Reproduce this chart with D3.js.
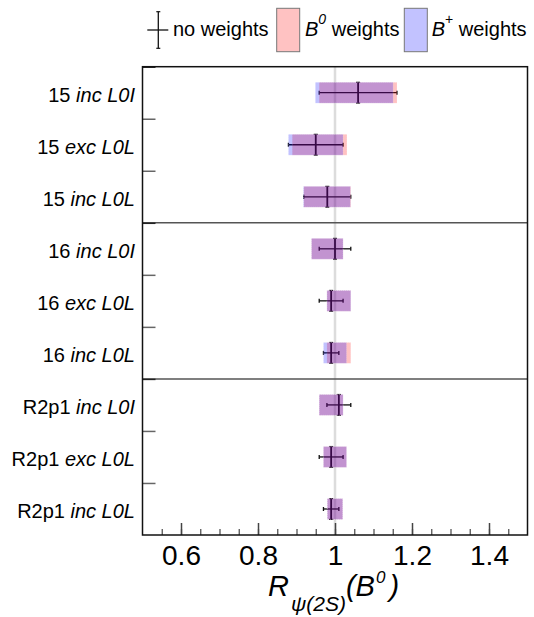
<!DOCTYPE html>
<html>
<head>
<meta charset="utf-8">
<script src="https://cdn.jsdelivr.net/npm/d3@7"></script>
<style>
  html, body { margin: 0; padding: 0; background: #fff; }
  svg { display: block; }
  text { font-family: "Liberation Sans", Arial, Helvetica, sans-serif; fill: #000; }
</style>
</head>
<body>
<svg id="chart" width="534" height="617"></svg>
<script>
// ---- data ----
const years      = ["15", "15", "15", "16", "16", "16", "R2p1", "R2p1", "R2p1"];
const selections = ["inc L0I", "exc L0L", "inc L0L", "inc L0I", "exc L0L", "inc L0L", "inc L0I", "exc L0L", "inc L0L"];

// no weights: central value and symmetric uncertainty
const noWeightVal = [1.060, 0.950, 0.980, 1.000, 0.990, 0.990, 1.010, 0.990, 0.990];
const noWeightErr = [0.101, 0.071, 0.061, 0.041, 0.031, 0.020, 0.031, 0.031, 0.020];

// B0 weights: central value and half-width of the box
const b0Val = [1.060, 0.960, 0.980, 0.980, 1.010, 1.010, 0.990, 1.000, 1.000];
const b0Err = [0.101, 0.071, 0.061, 0.041, 0.031, 0.031, 0.031, 0.030, 0.020];

// B+ weights: central value and half-width of the box
const bpVal = [1.050, 0.950, 0.979, 0.980, 1.010, 1.000, 0.990, 1.000, 1.000];
const bpErr = [0.101, 0.071, 0.061, 0.041, 0.031, 0.030, 0.031, 0.030, 0.020];

const xTicksMajor = [0.6, 0.8, 1.0, 1.2, 1.4];
const xTicksMinor = [0.55, 0.6, 0.65, 0.7, 0.75, 0.8, 0.85, 0.9, 0.95, 1.0, 1.05, 1.1, 1.15, 1.2, 1.25, 1.3, 1.35, 1.4, 1.45];
const panelEdges = [3, 6];
const rowEdges = [1, 2, 4, 5, 7, 8];
const referenceValue = 1.0;

const legendItems = [
  { kind: "err", base: "no weights", sup: "", rest: "" },
  { kind: "b0",  base: "B", sup: "0", rest: " weights" },
  { kind: "bp",  base: "B", sup: "+", rest: " weights" }
];

// ---- layout ----
const svg = d3.select("#chart");
const L = 142.5, R = 527.5, T = 66.7, B = 535;
const nRows = years.length;
const idx = d3.range(nRows);

const x = d3.scaleLinear().domain([0.5, 1.5]).range([L, R]);
const y = d3.scaleBand().domain(idx).range([T, B]).padding(0);
const yEdge = d3.scaleLinear().domain([0, nRows]).range([T, B]);
const bh = y.bandwidth() * 0.4;

const pink = "rgba(255,0,0,0.24)";
const blue = "rgba(0,0,255,0.24)";

// reference line at 1
svg.append("line")
  .attr("x1", x(referenceValue)).attr("x2", x(referenceValue))
  .attr("y1", T).attr("y2", B)
  .attr("stroke", "#dcdcdc").attr("stroke-width", 2.5);

// error bars (no weights), drawn under the boxes
const eg = svg.append("g").attr("stroke", "#111");
idx.forEach(i => {
  const cy = y(i) + y.bandwidth() / 2;
  const xl = x(noWeightVal[i] - noWeightErr[i]);
  const xr = x(noWeightVal[i] + noWeightErr[i]);
  const xc = x(noWeightVal[i]);
  eg.append("line").attr("x1", xl).attr("x2", xr).attr("y1", cy).attr("y2", cy).attr("stroke-width", 1.3);
  eg.append("line").attr("x1", xl).attr("x2", xl).attr("y1", cy - 2).attr("y2", cy + 2).attr("stroke-width", 1.3);
  eg.append("line").attr("x1", xr).attr("x2", xr).attr("y1", cy - 2).attr("y2", cy + 2).attr("stroke-width", 1.3);
  eg.append("line").attr("x1", xc).attr("x2", xc).attr("y1", cy - bh / 2).attr("y2", cy + bh / 2).attr("stroke-width", 1.8);
  eg.append("line").attr("x1", xc - 2).attr("x2", xc + 2).attr("y1", cy - bh / 2).attr("y2", cy - bh / 2).attr("stroke-width", 1.2);
  eg.append("line").attr("x1", xc - 2).attr("x2", xc + 2).attr("y1", cy + bh / 2).attr("y2", cy + bh / 2).attr("stroke-width", 1.2);
});

// boxes (with the faint dotted edge seen in the reference)
function boxes(vals, errs, color) {
  svg.append("g").selectAll("rect").data(idx).join("rect")
    .attr("x", i => x(vals[i] - errs[i]))
    .attr("width", i => x(vals[i] + errs[i]) - x(vals[i] - errs[i]))
    .attr("y", i => y(i) + y.bandwidth() / 2 - bh / 2)
    .attr("height", bh)
    .attr("fill", color)
    .attr("stroke", "rgba(255,255,255,0.35)")
    .attr("stroke-width", 0.8)
    .attr("stroke-dasharray", "1,1");
}
boxes(b0Val, b0Err, pink);
boxes(bpVal, bpErr, blue);

// panel separators
svg.append("g").selectAll("line").data(panelEdges).join("line")
  .attr("x1", L).attr("x2", R)
  .attr("y1", d => yEdge(d)).attr("y2", d => yEdge(d))
  .attr("stroke", "#555").attr("stroke-width", 1.5);

// left ticks at row edges (pointing inward)
const leftTicks = d3.axisRight(yEdge).tickValues(rowEdges.concat(panelEdges, [0])).tickSizeInner(13).tickSizeOuter(0).tickFormat("");
const lt = svg.append("g").attr("transform", `translate(${L},0)`).call(leftTicks);
lt.select(".domain").remove();
lt.selectAll(".tick line").attr("stroke", d => panelEdges.includes(d) || d === 0 ? "#222" : "#666").attr("stroke-width", 1.5);

// y labels
const yAxis = d3.axisLeft(y).tickSize(0).tickPadding(7.5).tickFormat("");
const ya = svg.append("g").attr("transform", `translate(${L},0)`).call(yAxis);
ya.select(".domain").remove();
ya.selectAll(".tick text").each(function(i) {
  const t = d3.select(this).attr("font-size", 20).attr("dy", "0.44em").attr("font-family", null);
  t.append("tspan").text(years[i] + " ");
  t.append("tspan").attr("font-style", "italic").text(selections[i]);
});

// x axis: minor and major ticks pointing up
const minorAxis = d3.axisBottom(x).tickValues(xTicksMinor).tickSizeInner(-6).tickSizeOuter(0).tickFormat("");
const xm = svg.append("g").attr("transform", `translate(0,${B})`).call(minorAxis);
xm.select(".domain").remove();
xm.selectAll(".tick line").attr("stroke", "#555").attr("stroke-width", 1.3);

const majorAxis = d3.axisBottom(x).tickValues(xTicksMajor).tickSizeInner(-12).tickSizeOuter(0).tickPadding(10)
  .tickFormat(d => d3.format("")(d));
const xa = svg.append("g").attr("transform", `translate(0,${B})`).call(majorAxis);
xa.select(".domain").remove();
xa.selectAll(".tick line").attr("stroke", "#444").attr("stroke-width", 1.5);
xa.selectAll(".tick text").attr("font-size", 28).attr("font-family", null);

// frame
svg.append("rect").attr("x", L).attr("y", T).attr("width", R - L).attr("height", B - T)
  .attr("fill", "none").attr("stroke", "#111").attr("stroke-width", 1.5);

// axis title R_{psi(2S)}(B^0)
const title = svg.append("text").attr("x", 268).attr("y", 596).attr("font-size", 29).attr("font-style", "italic");
title.append("tspan").text("R");
title.append("tspan").attr("font-size", 21).attr("dy", 15).attr("dx", 2).text("\u03c8(2S)");
title.append("tspan").attr("dy", -15).text("(B");
title.append("tspan").attr("font-size", 17).attr("dy", -13).attr("dx", 1).text("0");
title.append("tspan").attr("dy", 13).attr("dx", 4).text(")");

// legend
const lg = svg.append("g");
// error-bar marker
{
  const cx = 158.3, cy = 30;
  lg.append("line").attr("x1", cx).attr("x2", cx).attr("y1", 11.7).attr("y2", 48.3).attr("stroke", "#111").attr("stroke-width", 1.3);
  lg.append("line").attr("x1", cx - 2).attr("x2", cx + 2).attr("y1", 11.7).attr("y2", 11.7).attr("stroke", "#111").attr("stroke-width", 1.2);
  lg.append("line").attr("x1", cx - 2).attr("x2", cx + 2).attr("y1", 48.3).attr("y2", 48.3).attr("stroke", "#111").attr("stroke-width", 1.2);
  lg.append("line").attr("x1", 147.3).attr("x2", 168.3).attr("y1", cy).attr("y2", cy).attr("stroke", "#111").attr("stroke-width", 1.3);
}
const legendX = { err: 173, b0: 305, bp: 431.7 };
const legendBox = { b0: [276.7, pink], bp: [404.3, blue] };
legendItems.forEach(it => {
  if (it.kind !== "err") {
    lg.append("rect").attr("x", legendBox[it.kind][0]).attr("y", 8.3).attr("width", 23).attr("height", 43.4)
      .attr("fill", legendBox[it.kind][1]).attr("stroke", "#777").attr("stroke-width", 1);
  }
  const t = lg.append("text").attr("x", legendX[it.kind]).attr("y", 35.5).attr("font-size", 20);
  if (it.kind === "err") {
    t.text(it.base);
  } else {
    t.append("tspan").attr("font-style", "italic").text(it.base);
    t.append("tspan").attr("font-size", 14).attr("dy", -11.5).attr("font-style", it.sup === "0" ? "italic" : "normal").text(it.sup);
    t.append("tspan").attr("dy", 11.5).text(it.rest);
  }
});
</script>
</body>
</html>
